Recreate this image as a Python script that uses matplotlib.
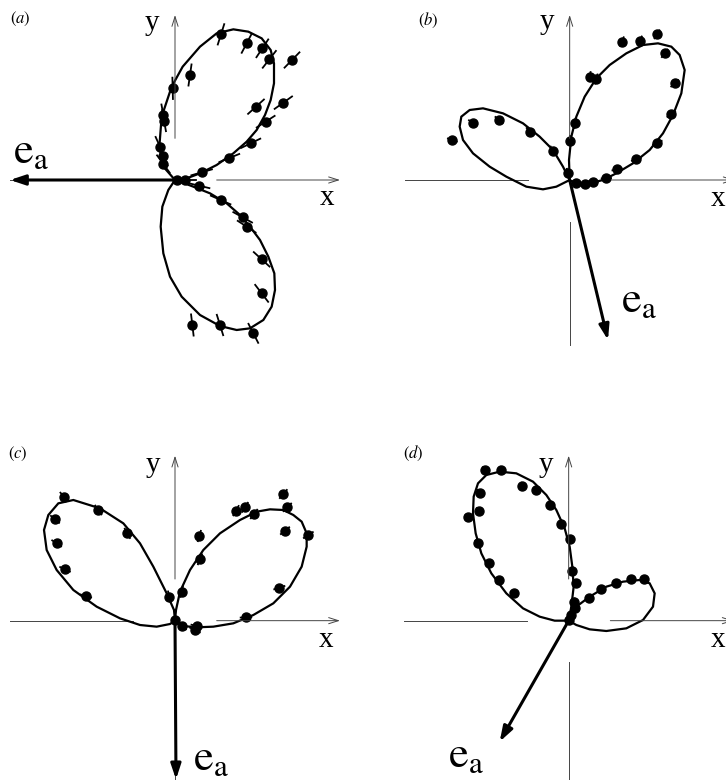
import numpy as np
import matplotlib.pyplot as plt

plt.rcParams['mathtext.fontset'] = 'stix'
plt.rcParams['font.family'] = ['Liberation Serif', 'DejaVu Serif']

# Coordinates are in thirds of a pixel, measured from each panel's origin (y up).

# (a)
a_curve_x = [0, -35, -47, -40, -10, 23, 75, 125, 175, 220, 260, 287, 297, 297, 287, 270, 245, 215, 175, 125, 75, 35, 0,
             -20, -38, -43, -35, -15, 20, 75, 135, 185, 225, 265, 290, 300, 298, 280, 255, 225, 195, 155, 105, 55, 15, 0]
a_curve_y = [0, 40, 100, 190, 280, 340, 400, 440, 452, 445, 425, 390, 350, 290, 240, 195, 150, 115, 80, 45, 20, 5, 0,
             -30, -80, -140, -220, -290, -350, -405, -438, -450, -445, -420, -380, -330, -280, -230, -180, -140, -105, -70, -40, -20, -5, 0]
a_pts_x = [138, 215, 262, 283, 351, 45, -7, -35, -33, 243, 325, 272, 227, 163, 80, -45, -37, -35, 5, 30,
           72, 137, 203, 215, 260, 260, 52, 135, 235]
a_pts_y = [437, 410, 395, 362, 360, 315, 275, 195, 178, 220, 232, 175, 110, 66, 23, 100, 72, 48, 0, 0,
           -17, -60, -112, -140, -238, -340, -435, -435, -460]
a_err = 32
a_ea = (-495, 0)

# (b)
b_curve_x = [0, -20, -50, -90, -140, -200, -260, -300, -325, -330, -320, -290, -240, -190, -130, -80, -40, -10, 0,
             20, 60, 100, 140, 190, 240, 280, 310, 335, 345, 330, 305, 265, 220, 170, 120, 80, 45, 20, 5, -2, 0]
b_curve_y = [0, 40, 90, 130, 170, 200, 215, 210, 190, 160, 120, 80, 40, 10, -20, -28, -20, -5, 0,
             -12, -10, 0, 20, 50, 90, 140, 195, 260, 330, 375, 400, 410, 405, 380, 345, 305, 250, 190, 130, 60, 0]
b_pts_x = [-352, -290, -212, -120, -50, -5, 0, 16, 60, 80, 157, 210, 262, 285, 315, 305, 263, 200, 142, 110, 70, 45, 20]
b_pts_y = [120, 172, 180, 145, 88, 20, 118, 170, 310, 303, 415, 418, 437, 380, 290, 197, 112, 62, 32, 5, -5, -12, -10]
b_err = 14
b_ea = (115, -480)

# (c)
c_curve_x = [0, -3, -25, -65, -105, -155, -225, -305, -350, -380, -393, -385, -355, -305, -235, -165, -105, -55, -15, 0,
             3, 15, 45, 85, 135, 195, 245, 285, 325, 355, 380, 395, 395, 380, 345, 295, 235, 175, 115, 65, 25, 0]
c_curve_y = [0, 32, 82, 162, 232, 292, 337, 362, 352, 317, 272, 212, 152, 92, 42, 7, -13, -18, -10, 0,
             32, 87, 152, 212, 262, 302, 327, 334, 332, 317, 297, 262, 222, 162, 102, 52, 17, -8, -18, -20, -16, 0]
c_pts_x = [-333, -230, -143, -360, -355, -330, -267, 73, 75, 20, -17, 0, 20, 60, 65, 213, 313, 400, 330, 337, 325, 237, 210, 183]
c_pts_y = [372, 332, 262, 304, 232, 154, 74, 254, 184, 87, 72, 2, -16, -28, -16, 10, 99, 257, 270, 340, 380, 320, 340, 330]
c_err = 16
c_ea = (3, -476)

# (d)
d_curve_x = [0, 8, 15, 11, 3, -12, -37, -67, -107, -157, -207, -247, -272, -285, -287, -279, -262, -232, -187, -137, -87, -42, 0,
             23, 63, 113, 163, 213, 243, 258, 253, 223, 173, 113, 63, 23, 0]
d_curve_y = [0, 42, 102, 162, 222, 277, 332, 377, 417, 442, 447, 437, 412, 372, 322, 262, 202, 142, 82, 37, 12, 0, 0,
             42, 72, 102, 117, 122, 112, 82, 42, 2, -23, -31, -26, -13, 0]
d_pts_x = [-252, -202, -139, -99, -57, -22, 3, 11, 23, 15, 18, 8, 1, -267, -269, -302, -272, -239, -209, -165,
           61, 98, 141, 188, 226]
d_pts_y = [452, 452, 404, 392, 347, 290, 244, 150, 112, 57, 37, 17, 2, 384, 330, 310, 234, 172, 122, 82,
           67, 94, 114, 125, 124]
d_err = 10
d_ea = (-207, -363)

panels = [
    # label, axes rect, origin (x, y from top), curve, points, error, e_a tip, text spots, draw lower y
    dict(tag='a', rect=[0, 0.5, 0.5, 0.5], ox=525, oy=540,
         cx=a_curve_x, cy=a_curve_y, px=a_pts_x, py=a_pts_y, err=a_err, ea=a_ea,
         tag_xy=(-495, 484), y_xy=(-68, 450), x_xy=(457, -75), x_ha='center', ea_xy=(-486, 51), lower=False),
    dict(tag='b', rect=[0.5, 0.5, 0.5, 0.5], ox=620, oy=540,
         cx=b_curve_x, cy=b_curve_y, px=b_pts_x, py=b_pts_y, err=b_err, ea=b_ea,
         tag_xy=(-455, 478), y_xy=(-68, 453), x_xy=(424, -78), x_ha='left', ea_xy=(154, -395), lower=True),
    dict(tag='c', rect=[0, 0, 0.5, 0.5], ox=525, oy=692,
         cx=c_curve_x, cy=c_curve_y, px=c_pts_x, py=c_pts_y, err=c_err, ea=c_ea,
         tag_xy=(-501, 500), y_xy=(-65, 446), x_xy=(452, -79), x_ha='center', ea_xy=(54, -448), lower=True),
    dict(tag='d', rect=[0.5, 0, 0.5, 0.5], ox=617, oy=692,
         cx=d_curve_x, cy=d_curve_y, px=d_pts_x, py=d_pts_y, err=d_err, ea=d_ea,
         tag_xy=(-497, 501), y_xy=(-67, 446), x_xy=(427, -79), x_ha='left', ea_xy=(-362, -439), lower=True),
]

fig = plt.figure(figsize=(7.26, 7.80), dpi=100)

gap, reach = 125, 495
axis_kw = dict(color='#444444', lw=0.7)
axis_arrow = dict(arrowstyle='->,head_length=0.7,head_width=0.22', mutation_scale=10,
                  color='#444444', lw=0.7, shrinkA=0, shrinkB=0)

for p in panels:
    ax = fig.add_axes(p['rect'])
    ax.set_xlim(-p['ox'], 1089 - p['ox'])
    ax.set_ylim(p['oy'] - 1170, p['oy'])
    ax.set_aspect('equal')
    ax.axis('off')

    # broken coordinate axes
    ax.plot([-reach, -gap], [0, 0], **axis_kw)
    if p['lower']:
        ax.plot([0, 0], [-reach, -gap], **axis_kw)
    ax.annotate('', xy=(reach, 0), xytext=(gap, 0), arrowprops=axis_arrow, annotation_clip=False)
    ax.annotate('', xy=(0, reach), xytext=(0, gap), arrowprops=axis_arrow, annotation_clip=False)

    # fitted curve
    ax.plot(p['cx'], p['cy'], color='black', lw=1.6, solid_joinstyle='miter')

    # measured points with radial error bars
    px = np.array(p['px'], dtype=float)
    py = np.array(p['py'], dtype=float)
    r = np.hypot(px, py)
    r[r == 0] = 1
    ux, uy = px / r, py / r
    for x0, y0, dx, dy in zip(px, py, ux, uy):
        ax.plot([x0 - dx * p['err'], x0 + dx * p['err']], [y0 - dy * p['err'], y0 + dy * p['err']],
                color='black', lw=1.3)
    ax.plot(px, py, 'o', color='black', ms=6.5)

    # anisotropy axis
    ax.annotate('', xy=p['ea'], xytext=(0, 0),
                arrowprops=dict(arrowstyle='-|>,head_length=0.9,head_width=0.3', mutation_scale=10,
                                color='black', lw=2.2, shrinkA=0, shrinkB=0),
                annotation_clip=False)

    ax.text(*p['tag_xy'], r'$(\mathit{%s})$' % p['tag'], fontsize=12, ha='left', va='center')
    ax.text(*p['y_xy'], 'y', fontsize=21, ha='center', va='baseline')
    ax.text(*p['x_xy'], 'x', fontsize=21, ha=p['x_ha'], va='baseline', clip_on=False)
    ax.text(*p['ea_xy'], r'$\mathrm{e_a}$', fontsize=32, ha='left', va='baseline')

fig.savefig('out.png', dpi=100, facecolor='white')
